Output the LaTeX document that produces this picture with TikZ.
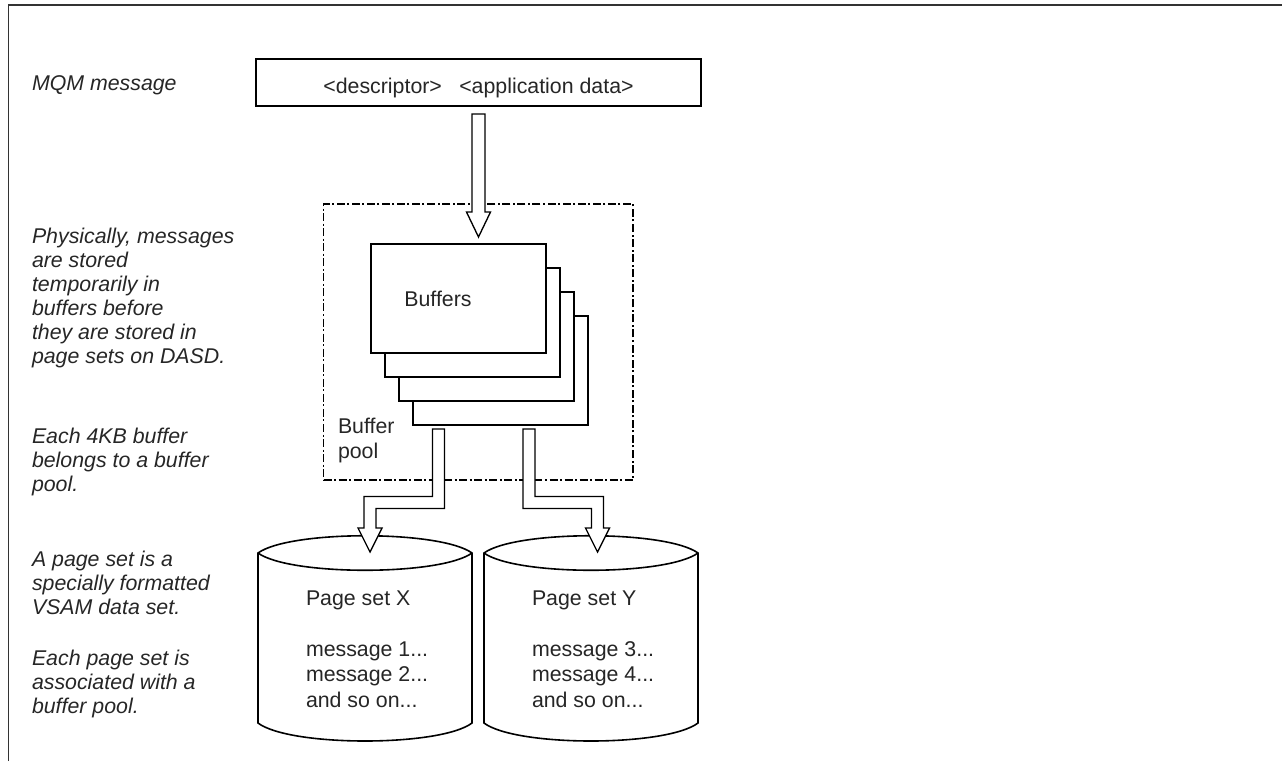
\documentclass[tikz,border=0pt]{standalone}
\usepackage{fontspec}
\setmainfont{Liberation Sans}
\begin{document}
\begin{tikzpicture}[x=0.75pt,y=-0.75pt,
  every node/.style={inner sep=0pt, outer sep=0pt},
  txt/.style={font=\fontsize{16pt}{18pt}\selectfont, text=black!85},
  note/.style={font=\fontsize{16pt}{18pt}\selectfont\itshape, text=black!85, align=left, anchor=base west},
  cyltxt/.style={font=\fontsize{16pt}{19.1pt}\selectfont, text=black!85, align=left, anchor=base west},
  frameline/.style={line width=1.1pt, black!80},
  msgbox/.style={draw, line width=1.3pt, fill=white, minimum width=333.75pt, minimum height=35.25pt},
  bufbox/.style={draw, line width=1.1pt, fill=white, minimum width=131.25pt, minimum height=81.75pt},
  poolbox/.style={draw, line width=0.8pt, dash pattern=on 6pt off 1.9pt on 1.5pt off 1.9pt, minimum width=232.1pt, minimum height=207pt},
  blockarrow/.style={draw, line width=1pt, fill=white, line join=miter},
  cyl/.style={draw, line width=1.2pt, fill=white},
]
\useasboundingbox (0,0) rectangle (1282,761);

% frame (top and left only)
\draw[frameline] (8.5,761) -- (8.5,5) -- (1282,5);

% left notes (anchor = baseline of last line)
\node[note] (n0) at (32,90) {MQM message};
\node[note] (n1) at (32,363) {Physically, messages\\are stored\\temporarily in\\buffers before\\they are stored in\\page sets on DASD.};
\node[note] (n2) at (32,491) {Each 4KB buffer\\belongs to a buffer\\pool.};
\node[note] (n3) at (32,614) {A page set is a\\specially formatted\\VSAM data set.};
\node[note] (n4) at (32,713) {Each page set is\\associated with a\\buffer pool.};

% message box
\node[msgbox] (msg) at (478.5,82.5) {};
\node[txt, anchor=base] (msgtxt) at (478.5,93) {<descriptor>\hspace{13pt}<application data>};

% buffer pool
\node[poolbox] (pool) at (478.25,342) {};
\node[txt, align=left, anchor=base west, font=\fontsize{16pt}{18.75pt}\selectfont] (pooltxt) at (338,458) {Buffer\\pool};

% buffers
\node[bufbox] (buf4) at (500.5,370.5) {};
\node[bufbox] (buf3) at (486.5,346.5) {};
\node[bufbox] (buf2) at (472.5,322.5) {};
\node[bufbox] (buf1) at (458.5,298.5) {};
\node[txt, anchor=base] (buftxt) at (438,306) {Buffers};

% top arrow
\draw[blockarrow] (472,114) -- (485,114) -- (485,212) -- (490.5,212) -- (478.5,237) -- (466.5,212) -- (472,212) -- cycle;

% cylinders
\draw[cyl] (258,553) -- (258,723) .. controls (290,747) and (440,747) .. (472,723) -- (472,553) .. controls (440,530) and (290,530) .. (258,553) -- cycle;
\draw[cyl, fill=none] (258,553) .. controls (290,576) and (440,576) .. (472,553);
\draw[cyl] (484,553) -- (484,723) .. controls (516,747) and (666,747) .. (698,723) -- (698,553) .. controls (666,530) and (516,530) .. (484,553) -- cycle;
\draw[cyl, fill=none] (484,553) .. controls (516,576) and (666,576) .. (698,553);

\node[cyltxt] (px) at (306,707) {Page set X\\[19.1pt]message 1...\\message 2...\\and so on...};
\node[cyltxt] (py) at (532,707) {Page set Y\\[19.1pt]message 3...\\message 4...\\and so on...};

% elbow arrows
\draw[blockarrow] (432.5,429) -- (444.5,429) -- (444.5,508.5) -- (376,508.5) -- (376,528) -- (382,528) -- (370,552) -- (358,528) -- (364,528) -- (364,496.5) -- (432.5,496.5) -- cycle;
\draw[blockarrow] (523,429) -- (535,429) -- (535,496.5) -- (603.5,496.5) -- (603.5,528) -- (609.5,528) -- (597.5,552) -- (585.5,528) -- (591.5,528) -- (591.5,508.5) -- (523,508.5) -- cycle;
\end{tikzpicture}
\end{document}
